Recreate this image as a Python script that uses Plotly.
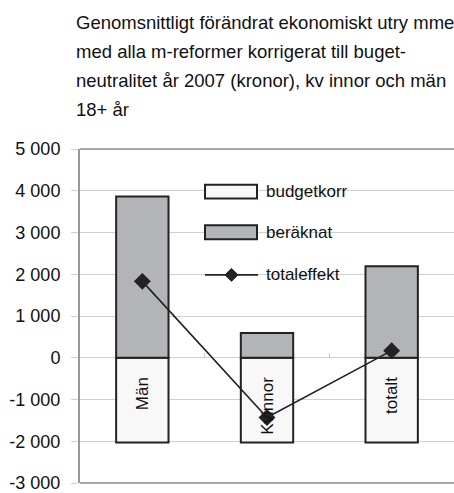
import plotly.graph_objects as go

categories = ["Män", "Kvinnor", "totalt"]
budgetkorr = [-2030, -2030, -2030]
beraknat = [3860, 590, 2190]
totaleffekt = [1830, -1430, 170]

y_tickvals = [5000, 4000, 3000, 2000, 1000, 0, -1000, -2000, -3000]
y_ticktext = ["5 000", "4 000", "3 000", "2 000", "1 000", "0", "-1 000", "-2 000", "-3 000"]

title_lines = [
    "Genomsnittligt förändrat ekonomiskt utry mme",
    "med alla m-reformer korrigerat till buget-",
    "neutralitet år 2007 (kronor), kv innor och män",
    "18+ år",
]

FONT = "Liberation Sans, Arial, sans-serif"
DARK = "#222222"
GRAY_FILL = "#b3b4b7"
WHITE_FILL = "#f8f8f8"

W, H = 454, 493
ML, MR, MT, MB = 80, 0, 149, 7
PW = W - ML - MR
PH = H - MT - MB


def px(x):
    return (x - ML) / PW


def py(y):
    return (H - MB - y) / PH


fig = go.Figure()
fig.add_trace(go.Bar(x=categories, y=budgetkorr, name="budgetkorr",
                     marker=dict(color=WHITE_FILL, line=dict(color=DARK, width=2)),
                     width=0.42, showlegend=False))
fig.add_trace(go.Bar(x=categories, y=beraknat, name="beräknat",
                     marker=dict(color=GRAY_FILL, line=dict(color=DARK, width=2)),
                     width=0.42, showlegend=False))
fig.add_trace(go.Scatter(x=categories, y=totaleffekt, name="totaleffekt",
                         mode="lines+markers",
                         line=dict(color=DARK, width=1.6),
                         marker=dict(symbol="diamond", size=13, color=DARK),
                         showlegend=False))

ymin, ymax = -3000, 5000
zero_pos = (0 - ymin) / (ymax - ymin)

shapes = []
annotations = []

# plot frame top and bottom
shapes.append(dict(type="line", xref="paper", yref="paper", x0=0, x1=1, y0=1, y1=1,
                   line=dict(color="#a8a8a8", width=2), layer="above"))
shapes.append(dict(type="line", xref="paper", yref="paper", x0=0, x1=1, y0=0, y1=0,
                   line=dict(color="#a8a8a8", width=2), layer="above"))

# custom legend
shapes.append(dict(type="rect", xref="paper", yref="paper",
                   x0=px(194), x1=px(357), y0=py(296), y1=py(176),
                   fillcolor="white", line=dict(width=0), layer="between"))
leg_items = [("budgetkorr", 192), ("beräknat", 233), ("totaleffekt", 276)]
shapes.append(dict(type="rect", xref="paper", yref="paper",
                   x0=px(205), x1=px(257), y0=py(199), y1=py(185),
                   fillcolor=WHITE_FILL, line=dict(color=DARK, width=2), layer="above"))
shapes.append(dict(type="rect", xref="paper", yref="paper",
                   x0=px(205), x1=px(257), y0=py(240), y1=py(226),
                   fillcolor=GRAY_FILL, line=dict(color=DARK, width=2), layer="above"))
shapes.append(dict(type="line", xref="paper", yref="paper",
                   x0=px(205), x1=px(258), y0=py(276), y1=py(276),
                   line=dict(color=DARK, width=1.6), layer="above"))
cx, cy, r = 231.5, 276, 6.5
shapes.append(dict(type="path", xref="paper", yref="paper",
                   path=f"M {px(cx - r)},{py(cy)} L {px(cx)},{py(cy - r)} L {px(cx + r)},{py(cy)} L {px(cx)},{py(cy + r)} Z",
                   fillcolor=DARK, line=dict(color=DARK, width=1), layer="above"))
for label, yc in leg_items:
    annotations.append(dict(text=label, xref="paper", yref="paper", x=px(264), y=py(yc),
                            xanchor="left", yanchor="middle", showarrow=False,
                            font=dict(family=FONT, size=17, color="#111")))

# title lines
for i, line in enumerate(title_lines):
    annotations.append(dict(text=line, xref="paper", yref="paper", x=px(74), y=py(21 + i * 29.5),
                            xanchor="left", yanchor="middle", showarrow=False,
                            font=dict(family=FONT, size=18.5, color="#111")))

fig.update_layout(
    width=W, height=H,
    margin=dict(l=ML, r=MR, t=MT, b=MB, pad=0),
    paper_bgcolor="white", plot_bgcolor="white",
    barmode="relative",
    bargap=0.58,
    font=dict(family=FONT, size=18, color="#111"),
    shapes=shapes,
    annotations=annotations,
    showlegend=False,
)
fig.update_yaxes(
    range=[ymin, ymax],
    tickvals=y_tickvals, ticktext=y_ticktext,
    showgrid=True, gridcolor="#d0d0d0", gridwidth=1,
    zeroline=False,
    showline=True, linecolor="#999999", linewidth=2,
    ticks="outside", ticklen=7, tickcolor="#d0d0d0",
    ticklabelstandoff=7,
    ticklabeloverflow="allow",
    tickfont=dict(family=FONT, size=18, color="#111"),
)
fig.update_xaxes(
    type="category",
    categoryorder="array", categoryarray=categories,
    range=[-0.5, 2.5],
    anchor="free", position=zero_pos,
    showline=False,
    showgrid=False, zeroline=False,
    ticks="inside", tickson="boundaries", ticklen=5, tickcolor="#c4c4c4",
    tickangle=-90,
    ticklabelstandoff=15,
    tickfont=dict(family=FONT, size=17, color="#111"),
)

fig.write_html(
    "out.html",
    config={"displayModeBar": False},
    post_script="document.body.style.margin='0';document.body.style.overflow='hidden';",
)
